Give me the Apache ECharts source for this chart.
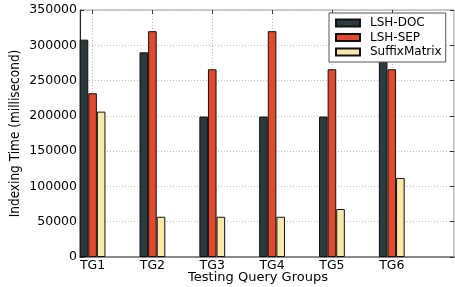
<!DOCTYPE html>
<html><head><meta charset="utf-8">
<script src="https://cdn.jsdelivr.net/npm/echarts@6/dist/echarts.min.js"></script>
<style>html,body{margin:0;padding:0;background:#fff}#c{width:455px;height:287px}</style>
</head><body><div id="c"></div>
<script>
const categories = ['TG1','TG2','TG3','TG4','TG5','TG6'];
const lshDoc = [308000, 290000, 199000, 199000, 199000, 290000];
const lshSep = [232000, 320000, 266000, 320000, 266000, 266000];
const suffixMatrix = [206000, 57000, 57000, 57000, 68000, 112000];
const yTicks = [0, 50000, 100000, 150000, 200000, 250000, 300000, 350000];

const idx = categories.map((c, i) => i);
const font = 'DejaVu Sans';
const chart = echarts.init(document.getElementById('c'), null, {renderer: 'canvas'});
function mk(name, vals, color) {
  return {
    name: name, type: 'bar', barWidth: 8.6, barGap: '0%',
    data: vals.map((v, i) => [idx[i], v]),
    itemStyle: {color: color, borderColor: '#111', borderWidth: 1}
  };
}
chart.setOption({
  animation: false,
  grid: {left: 80, right: 1, top: 10, bottom: 30, show: true, borderColor: '#999', borderWidth: 1, outerBoundsMode: 'none', containLabel: false},
  xAxis: [{
    type: 'value', min: -0.21, max: 6.04,
    axisLine: {show: true, onZero: false, lineStyle: {color: '#888', width: 2}},
    axisTick: {show: true, inside: true, length: 4, customValues: idx, lineStyle: {color: '#333'}},
    axisLabel: {customValues: idx, formatter: v => categories[Math.round(v)], color: '#000', fontFamily: font, fontSize: 12.5, margin: 2},
    splitLine: {show: true, lineStyle: {color: '#bbb', type: [1, 2]}},
    name: 'Testing Query Groups', nameLocation: 'middle', nameGap: 14, nameMoveOverlap: false,
    nameTextStyle: {color: '#000', fontFamily: font, fontSize: 13, padding: [0, 18, 0, 0]}
  }, {
    type: 'value', position: 'top', min: -0.21, max: 6.04,
    axisLine: {show: false, onZero: false},
    axisTick: {show: true, inside: true, length: 4, customValues: idx, lineStyle: {color: '#333'}},
    axisLabel: {show: false}, splitLine: {show: false}
  }],
  yAxis: [{
    type: 'value', min: 0, max: 350000, interval: 50000,
    axisLine: {show: true, onZero: false, lineStyle: {color: '#222', width: 1}},
    axisTick: {show: true, inside: true, length: 4, lineStyle: {color: '#333'}},
    axisLabel: {color: '#000', fontFamily: font, fontSize: 12.5, margin: 3, formatter: v => String(v)},
    splitLine: {show: true, lineStyle: {color: '#bbb', type: [1, 2]}},
    name: 'Indexing Time (millisecond)', nameLocation: 'middle', nameGap: 58, nameRotate: 90, nameMoveOverlap: false,
    nameTextStyle: {color: '#000', fontFamily: 'DejaVu Sans Condensed', fontSize: 13.5}
  }, {
    type: 'value', position: 'right', min: 0, max: 350000, interval: 50000,
    axisLine: {show: false, onZero: false},
    axisTick: {show: true, inside: true, length: 4, lineStyle: {color: '#333'}},
    axisLabel: {show: false}, splitLine: {show: false}
  }],
  legend: {
    left: 329, top: 13, orient: 'vertical', itemWidth: 24, itemHeight: 7, itemGap: 2.5,
    backgroundColor: '#fff', borderColor: '#555', borderWidth: 1, borderRadius: 0,
    padding: [4, 4, 4, 6],
    textStyle: {color: '#000', fontFamily: font, fontSize: 12, padding: [0, 0, 0, 5]},
    icon: 'rect',
    data: ['LSH-DOC', 'LSH-SEP', 'SuffixMatrix']
  },
  series: [
    mk('LSH-DOC', lshDoc, '#2a3a3d'),
    mk('LSH-SEP', lshSep, '#e2492f'),
    mk('SuffixMatrix', suffixMatrix, '#fbe9a9')
  ]
});
</script></body></html>
